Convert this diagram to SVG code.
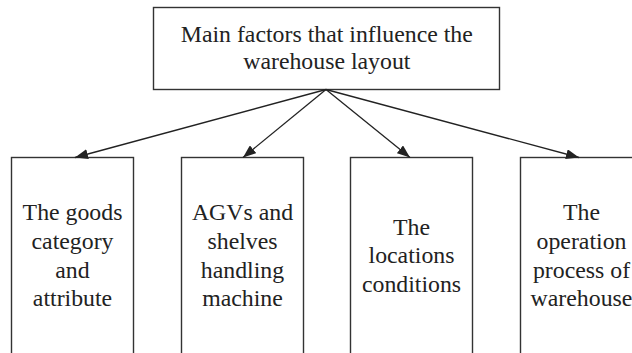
<svg xmlns="http://www.w3.org/2000/svg" width="632" height="353" viewBox="0 0 632 353">
<style>
.box{fill:#fff;stroke:#333;stroke-width:1.4}
.t{font-family:'Liberation Serif','Times New Roman',Times,serif;font-size:23.8px;fill:#222;text-anchor:middle}
.c{stroke:#222;stroke-width:1.3;fill:none;marker-end:url(#ah)}
</style>
<defs>
<marker id="ah" markerWidth="14" markerHeight="10" refX="13" refY="5" orient="auto" markerUnits="userSpaceOnUse">
<path d="M0,0 L13,5 L0,10 Z" fill="#222"/>
</marker>
</defs>
<rect width="632" height="353" fill="#fff"/>
<g id="top">
<rect class="box" x="153.5" y="7.5" width="346" height="82"/>
<text class="t" x="326.8" y="41.5">Main factors that influence the</text>
<text class="t" x="326.8" y="68.8">warehouse layout</text>
</g>
<g id="n1">
<rect class="box" x="11.5" y="157.5" width="122" height="210"/>
<text class="t" x="72.5" y="220">The goods</text>
<text class="t" x="72.5" y="248.8">category</text>
<text class="t" x="72.5" y="277.6">and</text>
<text class="t" x="72.5" y="306.4">attribute</text>
</g>
<g id="n2">
<rect class="box" x="181.5" y="157.5" width="122" height="210"/>
<text class="t" x="242.5" y="220">AGVs and</text>
<text class="t" x="242.5" y="248.8">shelves</text>
<text class="t" x="242.5" y="277.6">handling</text>
<text class="t" x="242.5" y="306.4">machine</text>
</g>
<g id="n3">
<rect class="box" x="350.5" y="157.5" width="122" height="210"/>
<text class="t" x="411.5" y="235">The</text>
<text class="t" x="411.5" y="263.4">locations</text>
<text class="t" x="411.5" y="291.8">conditions</text>
</g>
<g id="n4">
<rect class="box" x="520.5" y="157.5" width="122" height="210"/>
<text class="t" x="581.5" y="220">The</text>
<text class="t" x="581.5" y="248.8">operation</text>
<text class="t" x="581.5" y="277.6">process of</text>
<text class="t" x="581.5" y="306.4">warehouse</text>
</g>
<g id="connectors">
<line class="c" x1="326" y1="89.5" x2="75" y2="157.5"/>
<line class="c" x1="326" y1="89.5" x2="243" y2="157.5"/>
<line class="c" x1="326" y1="89.5" x2="410" y2="157.5"/>
<line class="c" x1="326" y1="89.5" x2="579" y2="157.5"/>
</g>
</svg>
